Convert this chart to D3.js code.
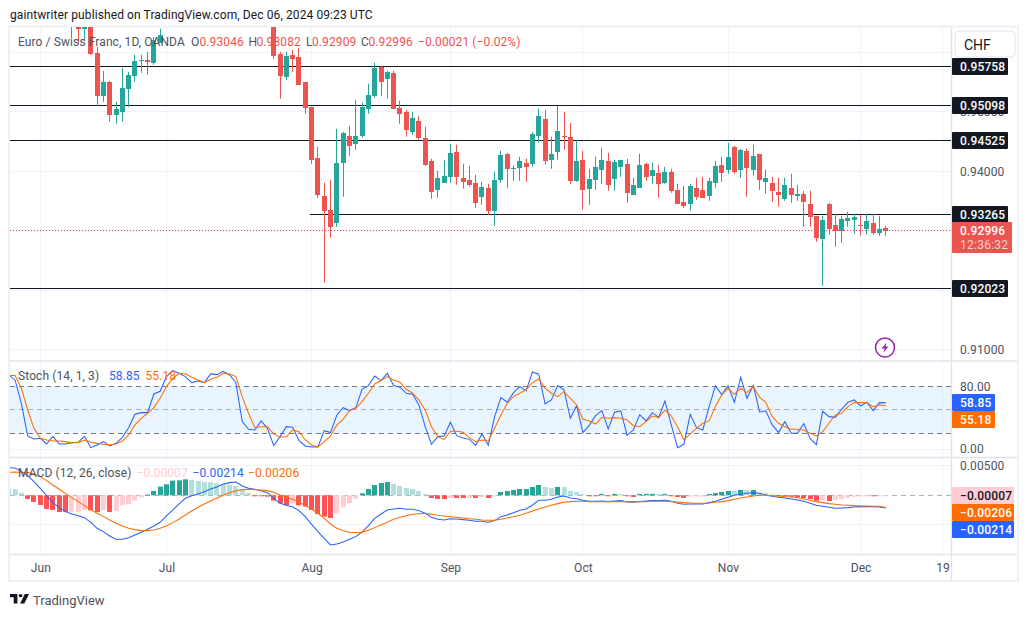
<!DOCTYPE html>
<html>
<head>
<meta charset="utf-8">
<script src="https://cdn.jsdelivr.net/npm/d3@7"></script>
<style>
	html, body { margin: 0; padding: 0; background: #fff; }
	svg { display: block; }
	text { font-family: Roboto, sans-serif; }
	.tick line, .domain { display: none; }
</style>
</head>
<body>
<div id="chartholder"></div>
<script>
/* Candles, in 1e-5 of a franc. Day 0 is 3 Jun; days 20-36 sit above the visible range */
const candleStart = 5;
const off = Array(17).fill(null);
const open = [96500,96450,96397,96700,95993,95270,95505,94950,95001,95388,95606,95859,95876,95825,96162,...off,
	96600,95977,95590,95960,95926,95505,95085,94227,93587,93352,93133,94143,94597,94462,94597,95051,95270,95758,95556,95657,
	95068,95001,94664,94849,94563,94176,93688,93806,93907,94328,93890,93857,93806,93571,93722,93335,93857,94294,94042,94059,
	94143,94126,94597,94883,94193,94328,94597,94580,93840,94193,93705,93857,94025,94176,93873,94075,94126,93604,93722,94126,
	93924,93974,93806,93991,93688,93486,93453,93722,93688,93587,93806,94109,94025,94412,94025,94345,94025,94294,93823,93806,
	93655,93537,93722,93587,93621,93453,93251,92864,93453,93100,92999,93167,93184,93100,93032,93133,92965,93046];
const high = [96560,96500,96500,96750,96094,95690,95522,95169,95741,95674,95960,95960,96010,96262,96397,...off,
	96700,96010,96010,96044,96077,95505,95085,94412,93806,93857,94715,94664,94765,95203,95152,95472,95825,95775,95690,95690,
	95186,95034,95001,94933,94748,94210,94008,94193,94462,94446,94126,94092,93941,93823,93789,93991,94345,94311,94092,94244,
	94210,94664,95051,95034,94580,95102,95001,94816,94530,94345,94042,94244,94395,94311,94193,94193,94210,93890,94294,94143,
	94143,94109,94075,94042,93789,93756,93789,93890,93907,93890,94176,94244,94479,94429,94378,94378,94446,94294,94025,93907,
	93890,93890,93958,93773,93672,93672,93251,93251,93470,93285,93251,93318,93285,93268,93285,93285,93251,93082];
const low = [96246,96162,96195,95960,95102,95169,94832,94799,94832,95085,95505,95657,95623,95791,96162,...off,
	95892,95219,95539,95674,95455,94967,94126,93554,92124,92881,93066,93571,94260,94361,94563,94967,95236,95270,95219,95051,
	94799,94580,94614,94530,94092,93537,93554,93806,93806,93773,93705,93739,93385,93436,93268,93083,93806,93722,93840,93840,
	93823,94075,94479,94109,94042,94193,94361,93789,93823,93352,93436,93688,93789,93672,93672,93907,93470,93604,93722,93840,
	93789,93554,93789,93638,93453,93385,93335,93520,93554,93503,93722,93823,93958,93958,93890,93571,93924,93688,93621,93486,
	93402,93503,93470,93503,93066,93066,92814,92073,92931,92729,92797,93066,92948,92914,92931,92931,92914,92909];
const close = [96450,96397,96450,95977,95270,95505,94950,95051,95404,95623,95859,95876,95842,96212,96296,...off,
	95943,95606,95943,95892,95455,95068,94193,93604,93335,93066,94143,94647,94429,94597,95085,95287,95741,95505,95674,95051,
	94967,94698,94900,94563,94109,93655,93890,93924,94311,93907,93823,93773,93470,93739,93335,93857,94277,94042,94059,94176,
	94075,94631,94933,94176,94294,94681,94580,93840,94176,93688,93873,94075,94193,93773,94160,94193,93638,93773,94109,93907,
	94025,93789,93991,93672,93453,93419,93756,93571,93554,93840,94092,93974,94244,93991,94361,94059,94260,93857,93890,93672,
	93604,93773,93604,93621,93486,93234,92881,93184,93032,92999,93200,93217,93234,93083,93167,92965,93032,92996];

/* Indicators start five sessions before day 0 */
const indicatorStart = -5;
const stochK = [94.5,88.1,58.3,16.6,12.8,13.6,6.4,16.2,6.4,6.4,8.1,8.5,16.2,1.7,5.1,9.4,3.8,7.2,14.9,27.2,44.3,46.4,46.4,70.2,73.6,
	92.4,100,96.6,92.4,84.7,86.8,84.7,95.8,94.9,99.2,94.5,84.7,34.9,25.1,24.3,35.8,26.4,4.3,15.8,28.5,27.7,10.6,3.8,2.6,2.6,23.4,20.9,
	43.4,52.8,49,52.8,76.2,80.9,93.2,87.3,96.6,80.9,78.8,71.1,69.8,56.2,28.5,6,15.8,16.6,34,17,14,12.3,4.7,19.2,4.7,41.3,65.6,59.6,71.9,
	79.6,74.5,98.3,95.4,57.5,62.6,80.9,75.4,39.2,55.3,20.9,30.2,42.6,49,25.5,46.8,48.5,17.5,24.3,43.8,35.8,46.4,40.4,61.3,30.7,
	1.7,6,44.3,27.2,24.3,54.1,80.5,69.4,80.5,59.6,91.5,64.7,81.3,47.3,48.5,30.7,20.9,34.9,20,20.4,32.4,13.6,5.5,48.1,41.3,40.4,50.7,59.6,62.6,54.9,59.6,49,59.2,58.85];
const stochD = [93.7,93.7,77.5,49.8,26.4,13.6,11.5,10.2,10.2,9.4,8.1,8.1,11.5,8.5,7.2,6,5.1,6.4,10.2,17.9,30.7,39.2,45.6,52.8,64.7,
	79.6,90.3,96.6,95.8,91.5,88.1,84.7,89,91.5,96.6,95.8,92.4,66.8,45.6,27.2,28.5,28.5,19.2,14.9,15.8,24.3,22.1,11.5,5.1,2.6,9.4,16.6,
	30.7,37.9,49,51.9,60.5,71.1,83,87.3,92.4,88.1,85.1,76.2,71.1,62.6,49.8,28.5,15.8,12.3,22.6,22.6,21.3,14.5,9.4,11.5,10.2,26.4,43.4,58.3,66.8,
	71.1,75.4,84.7,89.4,77.5,71.1,66.8,73.2,64.7,56.2,37.9,35.8,31.9,40.4,39.2,40,39.2,37,29.8,28.5,34.9,42.1,40,49.8,42.1,
	28.5,11.5,19.2,26.4,32.8,35.8,54.1,69,77.5,69.8,77.5,71.9,79.6,66,59.2,41.3,32.8,28.5,25.1,25.1,24.3,20,16.6,22.1,32.8,43.4,45.6,54.1,59.2,59.2,59.2,54.1,56.2,55.18];

/* MACD family, in 1e-5 */
const macdLine = [469,463,401,333,232,119,-6,-124,-209,-277,-316,-345,-379,-458,-559,-616,-689,-746,-746,-718,-672,-627,-576,-520,-458,-350,-249,-147,-51,-6,23,62,107,141,192,215,226,158,119,102,79,45,-51,-136,-170,-198,-260,-362,-492,-616,-729,-842,-825,
	-791,-746,-701,-622,-514,-390,-316,-249,-232,-220,-237,-237,-260,-305,-373,-407,-418,-396,-401,-412,-424,-441,-441,-458,-429,-362,-333,-294,-254,-232,-164,-85,-85,-68,-28,-11,-45,-57,-85,-102,-102,-96,-107,-96,-90,-113,-119,-107,-96,-90,-90,-85,-102,
	-136,-153,-147,-147,-147,-124,-102,-68,-34,0,23,34,45,34,6,-17,-34,-45,-62,-79,-102,-136,-170,-186,-203,-220,-215,-209,-198,-192,-192,-192,-198,-214];
const signalLine = [390,396,390,384,362,316,249,175,102,28,-40,-107,-175,-243,-305,-362,-418,-475,-520,-559,-582,-599,-599,-588,-559,-520,-463,-401,-333,-266,-203,-147,-96,-45,0,45,79,96,102,96,90,79,51,6,-34,-68,-119,-175,-232,-305,-390,-486,-559,
	-599,-627,-633,-627,-593,-548,-503,-452,-407,-373,-345,-322,-311,-305,-322,-339,-350,-362,-373,-384,-396,-407,-418,-424,-424,-407,-384,-362,-339,-305,-266,-232,-198,-170,-141,-119,-107,-102,-102,-107,-107,-107,-107,-107,-107,-107,-107,-107,-107,-102,-102,-102,-107,
	-113,-124,-130,-136,-136,-130,-119,-107,-90,-68,-45,-28,-11,0,0,-6,-11,-23,-28,-40,-62,-85,-107,-124,-141,-153,-164,-170,-175,-181,-181,-186,-186,-206];
const histogram = [110,102,45,-62,-113,-164,-232,-249,-283,-284,-280,-278,-250,-255,-283,-250,-283,-270,-170,-153,-90,-34,11,73,147,186,249,254,271,260,243,226,220,203,186,181,158,102,40,-3,-6,-23,-90,-136,-170,-141,-170,-192,-249,-316,-362,-384,-305,
	-203,-130,-57,34,107,175,209,226,192,158,124,107,73,23,-45,-62,-63,-45,-46,-47,-45,-46,-28,-45,-11,57,73,90,107,108,141,175,141,124,141,140,73,57,23,-6,-7,23,-6,23,22,-6,-28,23,24,25,20,23,-6,
	-28,-45,-23,-22,-21,23,40,57,73,72,90,89,91,45,34,17,-11,-23,-24,-34,-45,-62,-92,-90,-96,-79,-68,-45,-28,-17,-6,-11,-8,-7];

/* Tick labels and marked levels */
const monthLabels = ["Jun", "Jul", "Aug", "Sep", "Oct", "Nov", "Dec", "19"];
const monthDays = [0, 20, 43, 65, 86, 109, 130, 143];
const priceGrid = [0.96, 0.95, 0.94, 0.93, 0.92, 0.91];
const priceLabels = [0.95, 0.94, 0.91];
const levels = [0.95758, 0.95098, 0.94525, 0.93265, 0.92023];
const lastPrice = 0.92996;

const colors = { up: "#26a69a", down: "#ef5350", grid: "#f0f3fa", frame: "#e0e3eb", text: "#131722", axis: "#4c525e", blue: "#2962ff", orange: "#ff6d00" };

const width = 1029, height = 617;
const left = 10, right = 951;
const svg = d3.select("#chartholder").append("svg").attr("width", width).attr("height", height);

/* Scales */
const xScale = d3.scaleLinear().domain([0, 134]).range([40.3, 885.8]);
const priceScale = d3.scaleLinear().domain([0.95758, 0.92023]).range([66.75, 288.75]);
const stochScale = d3.scaleLinear().domain([80, 0]).range([386.3, 449]);
const macdScale = d3.scaleLinear().domain([0, -0.005]).range([495.3, 524.8]);
// pixel column / row that a value falls in, as TradingView snaps them
const col = v => Math.floor(v);
const row = v => Math.floor(v) + 0.5;

/* Frame and panels */
svg.append("rect").attr("x", 9).attr("y", 26.5).attr("width", 1009).attr("height", 554.5)
	.attr("fill", "#fff").attr("stroke", "#eef0f6").attr("stroke-width", 2);

const defs = svg.append("defs");
defs.append("clipPath").attr("id", "mainClip").append("rect").attr("x", left).attr("y", 27).attr("width", right - left).attr("height", 334);

// grid
svg.append("g").selectAll("line").data(monthDays).join("line")
	.attr("x1", d => col(xScale(d)) + 0.5).attr("x2", d => col(xScale(d)) + 0.5).attr("y1", 27).attr("y2", 554)
	.attr("stroke", colors.grid);
svg.append("g").selectAll("line").data(priceGrid).join("line")
	.attr("x1", left).attr("x2", right).attr("y1", d => row(priceScale(d))).attr("y2", d => row(priceScale(d)))
	.attr("stroke", colors.grid);

// stochastic band
svg.append("rect").attr("x", left).attr("width", right - left)
	.attr("y", stochScale(80)).attr("height", stochScale(20) - stochScale(80)).attr("fill", "rgba(33,150,243,0.1)");
svg.append("g").selectAll("line").data([0, 40]).join("line")
	.attr("x1", left).attr("x2", right).attr("y1", d => row(stochScale(d))).attr("y2", d => row(stochScale(d)))
	.attr("stroke", colors.grid);
svg.append("g").selectAll("line").data([0.005, -0.005]).join("line")
	.attr("x1", left).attr("x2", right).attr("y1", d => row(macdScale(d))).attr("y2", d => row(macdScale(d)))
	.attr("stroke", colors.grid);
svg.append("g").selectAll("line").data([[80, "#787b86"], [50, "#adb0b8"], [20, "#787b86"]]).join("line")
	.attr("x1", left).attr("x2", right).attr("y1", d => row(stochScale(d[0]))).attr("y2", d => row(stochScale(d[0])))
	.attr("stroke", d => d[1]).attr("stroke-dasharray", "5 4");
svg.append("line").attr("x1", left).attr("x2", right).attr("y1", row(macdScale(0))).attr("y2", row(macdScale(0)))
	.attr("stroke", "#adb0b8").attr("stroke-dasharray", "5 4");

// panel separators
svg.append("g").selectAll("line").data([361, 457.5, 554.5]).join("line")
	.attr("x1", left).attr("x2", 1017).attr("y1", d => d).attr("y2", d => d)
	.attr("stroke", colors.frame).attr("stroke-width", 1.4);
svg.append("line").attr("x1", 951.5).attr("x2", 951.5).attr("y1", 27).attr("y2", 581).attr("stroke", colors.frame).attr("stroke-width", 1.4);

/* Candles */
const candles = open.map((o, i) => ({ day: i + candleStart, o, h: high[i], l: low[i], c: close[i] })).filter(d => d.o !== null);
const main = svg.append("g").attr("clip-path", "url(#mainClip)");
const p5 = v => priceScale(v / 1e5);

// last price marker goes under the candles
main.append("line").attr("x1", left).attr("x2", right).attr("y1", row(priceScale(lastPrice))).attr("y2", row(priceScale(lastPrice)))
	.attr("stroke", "#f23645").attr("stroke-dasharray", "1 2");

main.selectAll(".level").data(levels).join("line")
	.attr("class", "level")
	.attr("x1", d => d === 0.93265 ? 310 : left).attr("x2", right)
	.attr("y1", d => row(priceScale(d))).attr("y2", d => row(priceScale(d)))
	.attr("stroke", "#131722").attr("stroke-width", 1);

const candle = main.selectAll(".candle").data(candles).join("g").attr("class", "candle")
	.attr("fill", d => d.c >= d.o ? colors.up : colors.down);
candle.append("rect")
	.attr("x", d => col(xScale(d.day))).attr("width", 1)
	.attr("y", d => p5(d.h)).attr("height", d => p5(d.l) - p5(d.h));
candle.append("rect")
	.attr("x", d => col(xScale(d.day)) - 2).attr("width", 5)
	.attr("y", d => Math.round(p5(Math.max(d.o, d.c))))
	.attr("height", d => Math.max(1, Math.round(p5(Math.min(d.o, d.c))) - Math.round(p5(Math.max(d.o, d.c)))));

/* Stochastic */
const dayOf = i => i + indicatorStart;
const indicatorX = (d, i) => xScale(dayOf(i));
const clipInd = defs.append("clipPath").attr("id", "indClip");
clipInd.append("rect").attr("x", left).attr("y", 361).attr("width", right - left).attr("height", 194);
const ind = svg.append("g").attr("clip-path", "url(#indClip)");

ind.append("path").datum(stochK).attr("fill", "none").attr("stroke", colors.blue).attr("stroke-width", 1.05)
	.attr("d", d3.line().x(indicatorX).y(d => stochScale(d)));
ind.append("path").datum(stochD).attr("fill", "none").attr("stroke", colors.orange).attr("stroke-width", 1.05)
	.attr("d", d3.line().x(indicatorX).y(d => stochScale(d)));

/* MACD */
const histColor = (v, i) => {
	const prev = i > 0 ? histogram[i - 1] : v + 1;
	if (v >= 0) return v > prev ? "#26a69a" : "#b2dfdb";
	return v < prev ? "#ff5252" : "#ffcdd2";
};
ind.selectAll(".hist").data(histogram).join("rect").attr("class", "hist")
	.attr("x", (d, i) => col(xScale(dayOf(i))) - 2).attr("width", 5)
	.attr("y", d => d >= 0 ? macdScale(d / 1e5) : macdScale(0))
	.attr("height", d => Math.max(1, Math.abs(macdScale(d / 1e5) - macdScale(0))))
	.attr("fill", histColor);
ind.append("path").datum(macdLine).attr("fill", "none").attr("stroke", colors.blue).attr("stroke-width", 1.05)
	.attr("d", d3.line().x(indicatorX).y(d => macdScale(d / 1e5)));
ind.append("path").datum(signalLine).attr("fill", "none").attr("stroke", colors.orange).attr("stroke-width", 1.05)
	.attr("d", d3.line().x(indicatorX).y(d => macdScale(d / 1e5)));

/* Axes */
const fmt5 = d3.format(".5f");
const styleAxis = g => g.call(a => a.selectAll("text").attr("fill", colors.axis).attr("font-size", 12).attr("letter-spacing", 0.1));
svg.append("g").attr("transform", "translate(951,0)")
	.call(d3.axisRight(priceScale).tickValues(priceLabels).tickFormat(fmt5).tickSize(0).tickPadding(9)).call(styleAxis);
svg.append("g").attr("transform", "translate(951,0)")
	.call(d3.axisRight(stochScale).tickValues([80, 0]).tickFormat(d3.format(".2f")).tickSize(0).tickPadding(9)).call(styleAxis);
svg.append("g").attr("transform", "translate(951,-0.5)")
	.call(d3.axisRight(macdScale).tickValues([0.005]).tickFormat(fmt5).tickSize(0).tickPadding(9)).call(styleAxis);
svg.append("g").attr("transform", "translate(0,555)")
	.call(d3.axisBottom(xScale).tickValues(monthDays).tickFormat((d, i) => monthLabels[i]).tickSize(0).tickPadding(8)).call(styleAxis);

/* Price tags */
const tag = (y, w, h, fill, label, textFill, textX) => {
	svg.append("rect").attr("x", 952).attr("y", y - h / 2).attr("width", w).attr("height", h).attr("rx", 1).attr("fill", fill);
	svg.append("text").attr("x", textX).attr("y", y + 4.2).attr("font-size", 12).attr("font-weight", 500)
		.attr("letter-spacing", 0.15).attr("fill", textFill).text(label);
};
levels.forEach(v => tag(row(priceScale(v)), 56, 17, "#131722", fmt5(v), "#fff", 960));

svg.append("rect").attr("x", 952).attr("y", 222).attr("width", 60).attr("height", 31).attr("rx", 1).attr("fill", colors.down);
svg.append("text").attr("x", 960).attr("y", 235).attr("font-size", 12).attr("font-weight", 500).attr("letter-spacing", 0.15).attr("fill", "#fff").text(fmt5(lastPrice));
svg.append("text").attr("x", 960).attr("y", 249).attr("font-size", 12).attr("letter-spacing", 0.25).attr("fill", "#fbd0ce").text("12:36:32");

tag(402.5, 43, 17, colors.blue, "58.85", "#fff", 960);
tag(419.5, 43, 17, colors.orange, "55.18", "#fff", 960);
tag(495.5, 62, 17, "#ffcdd2", "\u22120.00007", colors.text, 960);
tag(512.5, 62, 17, colors.orange, "\u22120.00206", "#fff", 960);
tag(529.5, 62, 17, colors.blue, "\u22120.00214", "#fff", 960);

/* Currency box */
svg.append("rect").attr("x", 955).attr("y", 31).attr("width", 60).attr("height", 26).attr("rx", 4)
	.attr("fill", "#fff").attr("stroke", colors.frame);
svg.append("text").attr("x", 964).attr("y", 49.5).attr("font-size", 14).attr("fill", colors.text).text("CHF");

/* Legends: each piece is [text, colour, x] */
const legend = (y, parts) => {
	const t = svg.append("g");
	parts.forEach(([s, c, x]) => t.append("text").attr("x", x).attr("y", y).attr("font-size", 12)
		.attr("letter-spacing", 0.1).attr("fill", c).text(s));
};
const dn = colors.down;
legend(46, [["Euro / Swiss Franc, 1D, OANDA", colors.axis, 18], ["O", colors.axis, 191], ["0.93046", dn, 199.5],
	["H", colors.axis, 248.5], ["0.93082", dn, 256.5], ["L", colors.axis, 306], ["0.92909", dn, 312],
	["C", colors.axis, 361], ["0.92996", dn, 368.5], ["\u22120.00021 (\u22120.02%)", dn, 418]]);
legend(380, [["Stoch (14, 1, 3)", colors.axis, 18], ["58.85", colors.blue, 109], ["55.18", colors.orange, 145.5]]);
legend(477, [["MACD (12, 26, close)", colors.axis, 18], ["\u22120.00007", "#ffcdd2", 136.5], ["\u22120.00214", colors.blue, 192.5], ["\u22120.00206", colors.orange, 248]]);

/* Publication line and logo */
svg.append("text").attr("x", 10).attr("y", 19).attr("font-size", 12).attr("letter-spacing", 0.1).attr("fill", colors.text)
	.text("gaintwriter published on TradingView.com, Dec 06, 2024 09:23 UTC");
const logo = svg.append("g").attr("transform", "translate(10,594) scale(0.53,0.47)").attr("fill", "#131722");
logo.append("path").attr("d", "M14 0H0v7h7v13h7V0z");
logo.append("circle").attr("cx", 20).attr("cy", 3.5).attr("r", 3.5);
logo.append("path").attr("d", "M28 0h8l-9 20h-8l9-20z");
svg.append("text").attr("x", 33).attr("y", 604.5).attr("font-size", 13).attr("fill", "#4c525e").text("TradingView");

/* Alert badge */
const badge = svg.append("g").attr("transform", "translate(885,347.5)");
badge.append("circle").attr("r", 9.5).attr("fill", "#fff").attr("stroke", "#9c27b0").attr("stroke-width", 1.6);
badge.append("path").attr("d", "M1.5 -5L-3.5 1H-0.5L-1.5 5L3.5 -1H0.5z").attr("fill", "#9c27b0");
</script>
</body>
</html>
